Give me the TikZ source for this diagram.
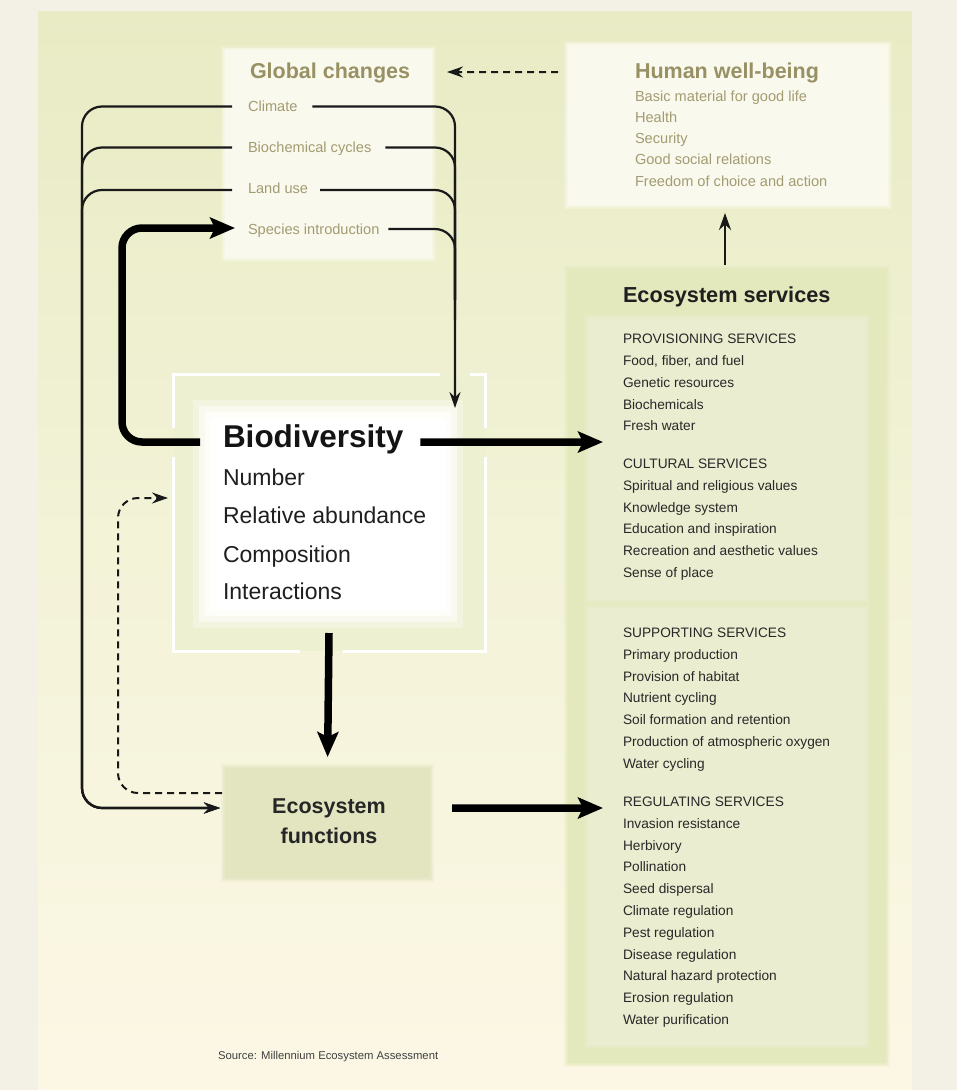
\documentclass[tikz,border=0pt]{standalone}
\usepackage{fontspec}
\setmainfont{Liberation Sans}
\usetikzlibrary{arrows.meta}
\definecolor{margincol}{RGB}{243,241,230}
\definecolor{bgtop}{RGB}{232,235,196}
\definecolor{bgmid}{RGB}{243,243,216}
\definecolor{bgbot}{RGB}{252,247,229}
\definecolor{olivetitle}{RGB}{152,145,100}
\definecolor{oliveitem}{RGB}{163,155,113}
\definecolor{palefill}{RGB}{250,249,238}
\definecolor{esfill}{RGB}{227,233,188}
\definecolor{esinner}{RGB}{234,237,207}
\definecolor{effill}{RGB}{226,229,192}
\definecolor{biofill}{RGB}{238,240,210}
\definecolor{estext}{RGB}{40,40,40}
\newcommand{\mysoftbox}[6]{%
  \fill[#6, opacity=.3] ({#2-4},{#3-4}) rectangle ({#2+#4+4},{#3+#5+4});
  \fill[#6, opacity=.6] ({#2-2},{#3-2}) rectangle ({#2+#4+2},{#3+#5+2});
  \node[anchor=north west, minimum width=#4bp, minimum height=#5bp, fill=#6] (#1) at (#2,#3) {};
}
\begin{document}
\begin{tikzpicture}[x=1bp,y=-1bp,
  every node/.style={inner sep=0pt, outer sep=0pt, anchor=base west},
  gctitle/.style={font=\fontsize{21.5bp}{25bp}\selectfont\bfseries, text=olivetitle},
  gcitem/.style={font=\fontsize{14.6bp}{17bp}\selectfont, text=oliveitem},
  estitle/.style={font=\fontsize{21.7bp}{25bp}\selectfont\bfseries, text=black!88},
  esitem/.style={font=\fontsize{13.7bp}{16bp}\selectfont, text=estext},
  biotitle/.style={font=\fontsize{31.5bp}{36bp}\selectfont\bfseries, text=black!92},
  bioitem/.style={font=\fontsize{23bp}{26bp}\selectfont, text=black!88},
  eftext/.style={font=\fontsize{21.5bp}{25bp}\selectfont\bfseries, text=black!85, anchor=base},
  srctext/.style={font=\fontsize{11.3bp}{13bp}\selectfont, text=black!75},
  thinline/.style={line width=2.2bp, draw=black!90},
  thinarrow/.style={thinline, -{Stealth[length=16bp,width=11bp]}},
  thickarrow/.style={line width=7.5bp, draw=black, -{Stealth[length=25bp,width=21bp,inset=5bp]}},
  dasharrow/.style={line width=2bp, draw=black!90, dash pattern=on 7bp off 5bp, -{Stealth[length=16bp,width=11bp]}},
  frameline/.style={line width=3bp, draw=white},
]
\useasboundingbox (0,0) rectangle (957,1090);
\fill[margincol] (0,0) rectangle (957,1090);
\shade[top color=bgtop, bottom color=bgbot, middle color=bgmid] (38,11) rectangle (912,1090);

% boxes
\mysoftbox{gcbox}{225}{50}{207}{208}{palefill}
\mysoftbox{hwbbox}{568}{45}{320}{160}{palefill}
\mysoftbox{esbox}{568}{270}{318}{793}{esfill}
\mysoftbox{esone}{588}{318}{278}{282}{esinner}
\mysoftbox{estwo}{588}{608}{278}{437}{esinner}
\mysoftbox{efbox}{225}{768}{205}{110}{effill}
\node[anchor=north west, minimum width=312bp, minimum height=277bp, fill=biofill] (biobox) at (173,374) {};
\fill[white, opacity=.3] (193,400) rectangle (463,628);
\fill[white, opacity=.5] (199,406) rectangle (457,622);
\fill[white, opacity=.7] (205,412) rectangle (451,616);
\fill[white] (211,418) rectangle (445,610);
% white frame with gaps
\draw[frameline] (440,374) -- (173,374) -- (173,428);
\draw[frameline] (173,457) -- (173,651) -- (300,651);
\draw[frameline] (343,651) -- (485,651) -- (485,457);
\draw[frameline] (485,428) -- (485,374) -- (470,374);

% texts: global changes
\node[gctitle] (gct) at (250,78) {Global changes};
\node[gcitem] (climate) at (248,111) {Climate};
\node[gcitem] (biochem) at (248,152) {Biochemical cycles};
\node[gcitem] (landuse) at (248,193) {Land use};
\node[gcitem] (species) at (248,234) {Species introduction};
% human well-being
\node[gctitle] (hwbt) at (635,78) {Human well-being};
\node[gcitem] (hw1) at (635,101) {Basic material for good life};
\node[gcitem] (hw2) at (635,122) {Health};
\node[gcitem] (hw3) at (635,143) {Security};
\node[gcitem] (hw4) at (635,164) {Good social relations};
\node[gcitem] (hw5) at (635,186) {Freedom of choice and action};
% ecosystem services
\node[estitle] (est) at (623,302) {Ecosystem services};
\node[esitem] (p0) at (623,343) {PROVISIONING SERVICES};
\node[esitem] (p1) at (623,365) {Food, fiber, and fuel};
\node[esitem] (p2) at (623,387) {Genetic resources};
\node[esitem] (p3) at (623,409) {Biochemicals};
\node[esitem] (p4) at (623,430) {Fresh water};
\node[esitem] (c0) at (623,468) {CULTURAL SERVICES};
\node[esitem] (c1) at (623,490) {Spiritual and religious values};
\node[esitem] (c2) at (623,512) {Knowledge system};
\node[esitem] (c3) at (623,533) {Education and inspiration};
\node[esitem] (c4) at (623,555) {Recreation and aesthetic values};
\node[esitem] (c5) at (623,577) {Sense of place};
\node[esitem] (s0) at (623,637) {SUPPORTING SERVICES};
\node[esitem] (s1) at (623,659) {Primary production};
\node[esitem] (s2) at (623,681) {Provision of habitat};
\node[esitem] (s3) at (623,702) {Nutrient cycling};
\node[esitem] (s4) at (623,724) {Soil formation and retention};
\node[esitem] (s5) at (623,746) {Production of atmospheric oxygen};
\node[esitem] (s6) at (623,768) {Water cycling};
\node[esitem] (r0) at (623,806) {REGULATING SERVICES};
\node[esitem] (r1) at (623,828) {Invasion resistance};
\node[esitem] (r2) at (623,850) {Herbivory};
\node[esitem] (r3) at (623,871) {Pollination};
\node[esitem] (r4) at (623,893) {Seed dispersal};
\node[esitem] (r5) at (623,915) {Climate regulation};
\node[esitem] (r6) at (623,937) {Pest regulation};
\node[esitem] (r7) at (623,959) {Disease regulation};
\node[esitem] (r8) at (623,980) {Natural hazard protection};
\node[esitem] (r9) at (623,1002) {Erosion regulation};
\node[esitem] (r10) at (623,1024) {Water purification};
% biodiversity
\node[biotitle] (biot) at (223,447) {Biodiversity};
\node[bioitem] (b1) at (223,485) {Number};
\node[bioitem] (b2) at (223,523) {Relative abundance};
\node[bioitem] (b3) at (223,562) {Composition};
\node[bioitem] (b4) at (223,599) {Interactions};
% ecosystem functions
\node[eftext] (ef1) at (329,813) {Ecosystem};
\node[eftext] (ef2) at (329,843) {functions};
% source
\node[srctext] (src) at (218,1059) {Source: Millennium Ecosystem Assessment};

% coordinates for free ends
\coordinate (bioin) at (455,408);
\coordinate (esinA) at (603,442);
\coordinate (esinB) at (603,808);

% connectors: left loops to ecosystem functions
\draw[thinarrow, rounded corners=20bp] ([xshift=-16bp,yshift=4.5bp]climate.base west) -- (82,106.5) -- (82,808) -- ([xshift=-5bp,yshift=15bp]efbox.west);
\draw[thinarrow, rounded corners=20bp] ([xshift=-16bp,yshift=4.5bp]biochem.base west) -- (82,147.5) -- (82,808) -- ([xshift=-5bp,yshift=15bp]efbox.west);
\draw[thinarrow, rounded corners=20bp] ([xshift=-16bp,yshift=3bp]landuse.base west) -- (82,190) -- (82,808) -- ([xshift=-5bp,yshift=15bp]efbox.west);
% right loops down to biodiversity
\draw[thinarrow, rounded corners=20bp] ([xshift=15bp,yshift=4.5bp]climate.base east) -- (455,106.5) -- (bioin);
\draw[thinline, rounded corners=20bp] ([xshift=14bp,yshift=4.5bp]biochem.base east) -- (455,147.5) -- (455,300);
\draw[thinline, rounded corners=20bp] ([xshift=12bp,yshift=3bp]landuse.base east) -- (455,190) -- (455,300);
\draw[thinline, rounded corners=20bp] ([xshift=9bp,yshift=5bp]species.base east) -- (455,229) -- (455,320);
% thick arrow biodiversity -> species introduction
\draw[thickarrow, rounded corners=20bp] ([xshift=-23bp,yshift=5bp]biot.base west) -- (122,442) -- (122,228) -- ([xshift=-13bp,yshift=6bp]species.base west);
% biodiversity -> ecosystem services
\draw[thickarrow] ([xshift=17bp,yshift=5bp]biot.base east) -- (esinA);
% biodiversity -> ecosystem functions
\draw[thickarrow, shorten >=11bp] ([yshift=18bp]biobox.south) -- (efbox.north);
% ecosystem functions -> ecosystem services
\draw[thickarrow] ([xshift=22bp,yshift=15bp]efbox.east) -- (esinB);
% ecosystem services -> human well-being
\draw[line width=2.5bp, draw=black!90, -{Stealth[length=17bp,width=12bp]}, shorten <=5bp, shorten >=8bp] ([xshift=-2bp]esbox.north) -- ([xshift=-3bp]hwbbox.south);
% human well-being -> global changes (dashed)
\draw[dasharrow] ([xshift=-10bp,yshift=53bp]hwbbox.west) -- ([xshift=15bp,yshift=82bp]gcbox.east);
% ecosystem functions -> biodiversity (dashed)
\draw[dasharrow, rounded corners=20bp] ([xshift=-3bp,yshift=30bp]efbox.west) -- (118,793) -- (118,498) -- ([xshift=-5bp,yshift=14.5bp]biobox.west);
\end{tikzpicture}
\end{document}
